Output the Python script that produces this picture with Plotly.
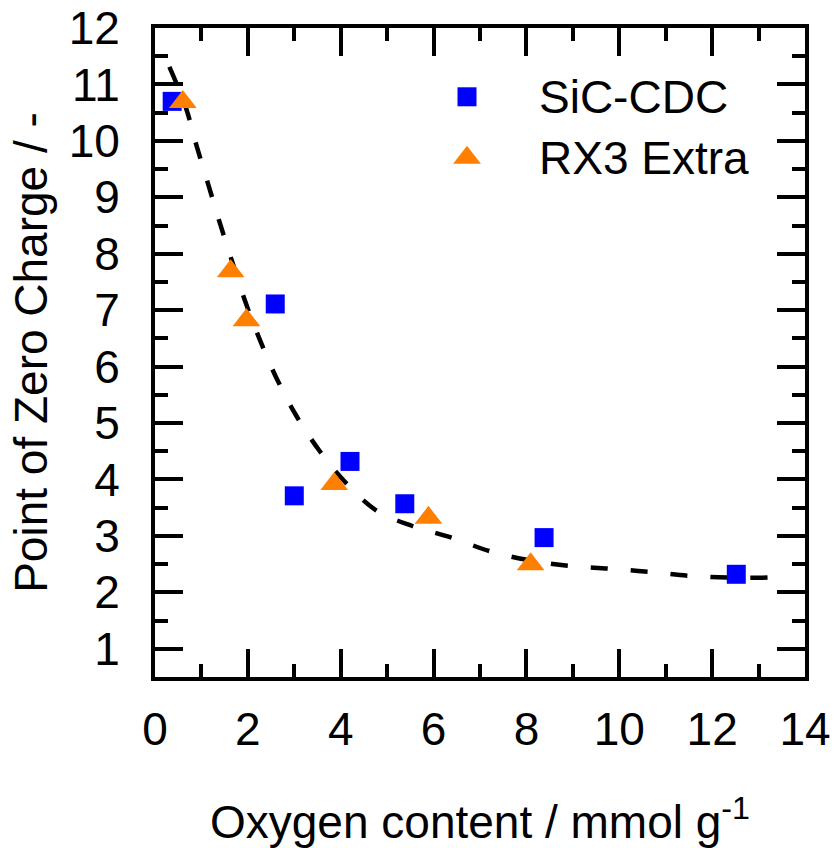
import plotly.graph_objects as go

# SiC-CDC (blue squares)
sic_x = [0.37, 2.59, 3.00, 4.20, 5.38, 8.38, 12.52]
sic_y = [10.70, 7.11, 3.71, 4.32, 3.57, 2.97, 2.32]

# RX3 Extra (orange triangles)
rx3_x = [0.60, 1.63, 1.97, 3.86, 5.89, 8.09]
rx3_y = [10.69, 7.69, 6.82, 3.92, 3.32, 2.50]

# dashed fit curve
fit_x = [0.31, 0.66, 0.89, 1.15, 1.41, 1.67, 1.95, 2.27, 2.62, 3.05, 3.55, 4.10,
         4.77, 5.53, 6.39, 7.21, 8.05, 8.91, 9.80, 10.68, 11.56, 12.47, 13.33, 13.56]
fit_y = [11.31, 10.60, 9.93, 9.22, 8.51, 7.84, 7.14, 6.45, 5.79, 5.12, 4.50, 3.95,
         3.45, 3.18, 2.97, 2.73, 2.57, 2.47, 2.42, 2.36, 2.29, 2.26, 2.27, 2.31]

x_ticks = [0, 2, 4, 6, 8, 10, 12, 14]
y_ticks = [1, 2, 3, 4, 5, 6, 7, 8, 9, 10, 11, 12]

series_names = ["SiC-CDC", "RX3 Extra"]

FONT = "Liberation Sans, Arial, sans-serif"
BLUE = "#0000ff"
ORANGE = "#ff7f00"

fig = go.Figure()
fig.add_trace(go.Scatter(
    x=fit_x, y=fit_y, mode="lines", showlegend=False,
    line=dict(color="black", width=4.5, dash="17px,23px", shape="spline"),
))
fig.add_trace(go.Scatter(
    x=sic_x, y=sic_y, mode="markers", name=series_names[0], showlegend=False,
    marker=dict(symbol="square", size=19, color=BLUE),
))
fig.add_trace(go.Scatter(
    x=rx3_x, y=rx3_y, mode="markers", name=series_names[1], showlegend=False,
    marker=dict(symbol="triangle-up", size=24, color=ORANGE),
))

# legend keys drawn on an overlay axis spanning the plot area (0..1)
fig.add_trace(go.Scatter(
    x=[0.48], y=[0.894], xaxis="x2", yaxis="y2", mode="markers",
    showlegend=False, hoverinfo="skip",
    marker=dict(symbol="square", size=19, color=BLUE),
))
fig.add_trace(go.Scatter(
    x=[0.48], y=[0.80], xaxis="x2", yaxis="y2", mode="markers",
    showlegend=False, hoverinfo="skip",
    marker=dict(symbol="triangle-up", size=24, color=ORANGE),
))
for name, yy in zip(series_names, [0.894, 0.80]):
    fig.add_annotation(
        x=0.588, y=yy, xref="paper", yref="paper", text=name, showarrow=False,
        xanchor="left", yanchor="middle",
        font=dict(family=FONT, size=46, color="black"),
    )

axis_common = dict(
    showline=True, linecolor="black", linewidth=4, mirror="allticks",
    ticks="inside", ticklen=28, tickwidth=4, tickcolor="black",
    showgrid=False, zeroline=False, automargin=False,
    tickfont=dict(family=FONT, size=46, color="black"),
)

fig.update_layout(
    xaxis=dict(
        range=[0, 14], tickvals=x_ticks,
        minor=dict(dtick=1, ticks="inside", ticklen=13, tickwidth=4, tickcolor="black"),
        ticklabelstandoff=9,
        title=dict(text="Oxygen content / mmol g<sup>-1</sup>",
                   font=dict(family=FONT, size=46, color="black"), standoff=53),
        **axis_common,
    ),
    yaxis=dict(
        range=[0.5, 12], tickvals=y_ticks,
        minor=dict(dtick=0.5, ticks="inside", ticklen=13, tickwidth=4, tickcolor="black"),
        ticklabelstandoff=22,
        title=dict(text="Point of Zero Charge / -",
                   font=dict(family=FONT, size=46, color="black"), standoff=8),
        **axis_common,
    ),
    xaxis2=dict(overlaying="x", range=[0, 1], visible=False, fixedrange=True),
    yaxis2=dict(overlaying="y", range=[0, 1], visible=False, fixedrange=True),
    width=836, height=848,
    margin=dict(l=155, r=31, t=28, b=171, pad=0),
    paper_bgcolor="white", plot_bgcolor="white",
    showlegend=False,
)

fig.write_html("out.html")
